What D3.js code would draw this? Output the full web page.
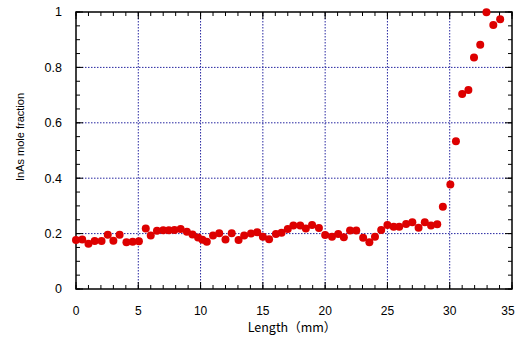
<!DOCTYPE html>
<html>
<head>
<meta charset="utf-8">
<script src="https://cdn.jsdelivr.net/npm/d3@7"></script>
<style>
  body { margin: 0; background: #fff; }
  svg { display: block; }
  text { font-family: "Liberation Sans", Arial, sans-serif; }
</style>
</head>
<body>
<svg></svg>
<script>
'use strict';

const svgWidth = 517;
const svgHeight = 338;

const margin = { top: 12, right: 5, bottom: 49, left: 76 };
const width = svgWidth - margin.left - margin.right;
const height = svgHeight - margin.top - margin.bottom;

// positions along the sample (mm) and measured fraction
const lengthMm = [
  0, 0.5, 1, 1.5, 2.05, 2.55, 3, 3.5, 4.05, 4.55, 5.05, 5.6, 6, 6.5, 7, 7.45,
  7.9, 8.4, 8.9, 9.35, 9.8, 10.15, 10.5, 11, 11.5, 12, 12.5, 13.05, 13.5, 14.05,
  14.55, 15, 15.5, 16.05, 16.5, 17, 17.45, 18, 18.45, 18.95, 19.5, 20, 20.55,
  21.05, 21.5, 22, 22.5, 23.05, 23.55, 24, 24.5, 25, 25.5, 25.95, 26.5, 27,
  27.5, 28, 28.5, 29, 29.45, 30.05, 30.5, 31, 31.5, 31.95, 32.45, 32.95, 33.5,
  34.05
];
const inasFraction = [
  0.177, 0.179, 0.163, 0.173, 0.173, 0.196, 0.174, 0.196, 0.169, 0.171, 0.172,
  0.218, 0.193, 0.21, 0.212, 0.212, 0.213, 0.217, 0.207, 0.197, 0.186, 0.178,
  0.171, 0.193, 0.201, 0.179, 0.201, 0.177, 0.193, 0.2, 0.205, 0.189, 0.18,
  0.199, 0.203, 0.217, 0.229, 0.229, 0.218, 0.231, 0.22, 0.195, 0.189, 0.199,
  0.187, 0.211, 0.211, 0.185, 0.169, 0.189, 0.213, 0.231, 0.225, 0.225, 0.235,
  0.241, 0.221, 0.241, 0.229, 0.234, 0.297, 0.377, 0.533, 0.704, 0.718, 0.836,
  0.882, 0.999, 0.953, 0.974
];

const xTicks = [0, 5, 10, 15, 20, 25, 30, 35];
const yTicks = [0, 0.2, 0.4, 0.6, 0.8, 1];

const points = lengthMm.map((d, i) => ({ x: d, y: inasFraction[i] }));

const svg = d3.select('svg')
  .attr('width', svgWidth)
  .attr('height', svgHeight);

const svgG = svg.append('g')
  .attr('transform', `translate(${margin.left}, ${margin.top})`);

const x = d3.scaleLinear().domain([0, 35]).range([0, width]);
const y = d3.scaleLinear().domain([0, 1]).range([height, 0]);

// dotted grid
svgG.append('g')
  .selectAll('line')
  .data(xTicks.slice(1, -1))
  .join('line')
  .attr('x1', d => x(d)).attr('x2', d => x(d))
  .attr('y1', 0).attr('y2', height)
  .attr('stroke', '#2626a0')
  .attr('stroke-width', 1)
  .attr('stroke-dasharray', '1.5,1.5');

svgG.append('g')
  .selectAll('line')
  .data(yTicks.slice(1, -1))
  .join('line')
  .attr('x1', 0).attr('x2', width)
  .attr('y1', d => y(d)).attr('y2', d => y(d))
  .attr('stroke', '#2626a0')
  .attr('stroke-width', 1)
  .attr('stroke-dasharray', '1.5,1.5');

// inward ticks on all sides
const minorX = d3.range(0, 36, 1);
const minorY = d3.range(0, 1.0001, 0.05);

function tickSet(axis, vals, len) {
  const g = svgG.append('g').attr('stroke', '#000').attr('stroke-width', 1);
  vals.forEach(v => {
    if (axis === 'x') {
      g.append('line').attr('x1', x(v)).attr('x2', x(v)).attr('y1', height).attr('y2', height - len);
      g.append('line').attr('x1', x(v)).attr('x2', x(v)).attr('y1', 0).attr('y2', len);
    } else {
      g.append('line').attr('y1', y(v)).attr('y2', y(v)).attr('x1', 0).attr('x2', len);
      g.append('line').attr('y1', y(v)).attr('y2', y(v)).attr('x1', width).attr('x2', width - len);
    }
  });
}
tickSet('x', minorX, 4);
tickSet('x', xTicks, 7);
tickSet('y', minorY, 4);
tickSet('y', yTicks, 7);

// frame
svgG.append('rect')
  .attr('width', width)
  .attr('height', height)
  .attr('fill', 'none')
  .attr('stroke', '#000')
  .attr('stroke-width', 1.5);

// tick labels
svgG.append('g')
  .selectAll('text')
  .data(xTicks)
  .join('text')
  .attr('x', d => x(d))
  .attr('dx', d => d === 35 ? -4 : 0)
  .attr('y', height + 26)
  .attr('text-anchor', 'middle')
  .attr('font-size', 12)
  .text(d => d);

svgG.append('g')
  .selectAll('text')
  .data(yTicks)
  .join('text')
  .attr('x', -14)
  .attr('y', d => y(d))
  .attr('dy', '0.35em')
  .attr('text-anchor', 'end')
  .attr('font-size', 12.5)
  .text(d => d);

// axis titles
svg.append('text')
  .attr('x', margin.left + width / 2 - 2)
  .attr('y', 332)
  .attr('text-anchor', 'middle')
  .attr('font-size', 12.5)
  .style('font-family', '"Noto Sans CJK JP", "Liberation Sans", sans-serif')
  .text('Length（mm）');

svg.append('text')
  .attr('transform', 'translate(24, 137) rotate(-90)')
  .attr('text-anchor', 'middle')
  .attr('font-size', 11)
  .text('InAs mole fraction');

// data points
svgG.append('g')
  .selectAll('circle')
  .data(points)
  .join('circle')
  .attr('cx', d => x(d.x))
  .attr('cy', d => y(d.y))
  .attr('r', 4)
  .attr('fill', '#dd0000');
</script>
</body>
</html>
